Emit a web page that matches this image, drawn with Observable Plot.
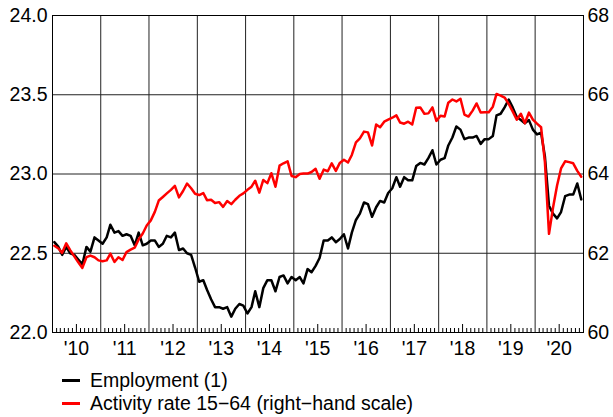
<!DOCTYPE html>
<html>
<head>
<meta charset="utf-8">
<script src="https://cdn.jsdelivr.net/npm/d3@7"></script>
<script src="https://cdn.jsdelivr.net/npm/@observablehq/plot@0.6"></script>
<style>
  body { margin: 0; background: #fff; font-family: "Liberation Sans", Arial, sans-serif; }
  #legend { padding-top: 7px; font-size: 19.5px; line-height: 23px; color: #000; }
  .row { display: flex; align-items: center; }
  .sw { display: inline-block; width: 18px; height: 2.5px; margin-left: 62px; margin-right: 10px; }
</style>
</head>
<body>
<div id="chart"></div>
<div id="legend"></div>
<script>
// Monthly data, Jan 2010 – Dec 2020
const startYear = 2010;
const employment = [
  22.57, 22.54, 22.49, 22.54, 22.50, 22.49, 22.46, 22.43, 22.54, 22.51,
  22.60, 22.58, 22.56, 22.60, 22.68, 22.63, 22.64, 22.61, 22.62, 22.61,
  22.55, 22.63, 22.55, 22.56, 22.58, 22.58, 22.54, 22.56, 22.61, 22.60,
  22.63, 22.52, 22.53, 22.50, 22.49, 22.41, 22.32, 22.33, 22.27, 22.21,
  22.16, 22.16, 22.15, 22.16, 22.10, 22.15, 22.18, 22.17, 22.12, 22.16,
  22.26, 22.16, 22.28, 22.33, 22.33, 22.26, 22.35, 22.36, 22.31, 22.35,
  22.33, 22.35, 22.31, 22.40, 22.38, 22.42, 22.47, 22.58, 22.58, 22.60,
  22.57, 22.59, 22.62, 22.53, 22.63, 22.71, 22.75, 22.82, 22.81, 22.73,
  22.79, 22.83, 22.82, 22.88, 22.91, 22.98, 22.92, 22.98, 22.96, 22.96,
  23.05, 23.07, 23.06, 23.10, 23.15, 23.06, 23.09, 23.10, 23.18, 23.23,
  23.30, 23.28, 23.22, 23.23, 23.23, 23.24, 23.19, 23.22, 23.22, 23.24,
  23.37, 23.38, 23.42, 23.47, 23.42, 23.36, 23.34, 23.32, 23.34, 23.28,
  23.25, 23.26, 23.11, 22.80, 22.75, 22.72, 22.76, 22.86, 22.87, 22.87, 22.94, 22.84
];
const activity = [
  62.19, 62.12, 62.01, 62.25, 62.08, 61.92, 61.77, 61.63, 61.90, 61.94,
  61.90, 61.82, 61.80, 61.82, 61.99, 61.78, 61.90, 61.83, 62.03, 62.09,
  62.14, 62.35, 62.50, 62.70, 62.83, 63.05, 63.33, 63.42, 63.51, 63.60,
  63.70, 63.41, 63.57, 63.76, 63.64, 63.50, 63.47, 63.52, 63.34, 63.35,
  63.27, 63.29, 63.17, 63.32, 63.24, 63.35, 63.45, 63.51, 63.60, 63.68,
  63.83, 63.53, 63.85, 63.77, 64.02, 63.68, 64.21, 64.27, 64.32, 63.95,
  63.92, 64.00, 64.01, 64.01, 64.05, 64.13, 63.88, 64.11, 64.07, 64.27,
  64.08, 64.28, 64.36, 64.29, 64.48, 64.80, 64.90, 65.07, 65.05, 64.72,
  65.25, 65.18, 65.32, 65.37, 65.42, 65.48, 65.30, 65.27, 65.32, 65.25,
  65.67, 65.68, 65.52, 65.53, 65.68, 65.34, 65.47, 65.45, 65.80, 65.88,
  65.83, 65.90, 65.50, 65.45, 65.60, 65.78, 65.55, 65.56, 65.56, 65.70,
  66.02, 65.98, 65.93, 65.77, 65.58, 65.37, 65.52, 65.28, 65.55, 65.37,
  65.27, 65.18, 64.30, 62.49, 63.14, 63.71, 64.14, 64.32, 64.30, 64.27, 64.08, 63.93
];
const yearLabels = ["'10","'11","'12","'13","'14","'15","'16","'17","'18","'19","'20"];
const leftTicks = [22.0, 22.5, 23.0, 23.5, 24.0];
const rightTicks = [60, 62, 64, 66, 68];
const gridLeft = [22.5, 23.0, 23.5];
const seriesNames = ["Employment (1)", "Activity rate 15\u221264 (right\u2212hand scale)"];
const seriesColors = ["#000000", "#ff0000"];

// right scale 60–68 maps onto left scale 22–24
const toLeft = v => 22 + (v - 60) / 4;
const toRight = v => 60 + (v - 22) * 4;

const monthDate = i => new Date(Date.UTC(startYear, i, 15));
const empData = employment.map((v, i) => ({date: monthDate(i), v}));
const actData = activity.map((v, i) => ({date: monthDate(i), v}));

const nYears = yearLabels.length;
const yearStarts = d3.range(1, nYears).map(k => new Date(Date.UTC(startYear + k, 0, 1)));
const midYears = d3.range(nYears).map(k => new Date(Date.UTC(startYear + k, 6, 1)));
const monthTicks = d3.range(nYears * 12).filter(i => i % 12 !== 0 && i % 12 !== 6)
  .map(i => new Date(Date.UTC(startYear, i, 1)));

const W = 613, H = 362, mT = 15, mB = 30;
const innerH = H - mT - mB;

const chart = Plot.plot({
  width: W,
  height: H,
  marginLeft: 52,
  marginRight: 30,
  marginTop: mT,
  marginBottom: mB,
  style: {fontFamily: "'Liberation Sans', Arial, sans-serif", fontSize: "19.5px", color: "#000", background: "#fff"},
  x: {type: "utc", domain: [new Date(Date.UTC(startYear, 0, 1)), new Date(Date.UTC(startYear + nYears, 0, 1))]},
  y: {domain: [22, 24]},
  marks: [
    Plot.ruleX(yearStarts, {stroke: "#222", strokeWidth: 1}),
    Plot.ruleY(gridLeft, {stroke: "#222", strokeWidth: 1}),
    Plot.ruleX(monthTicks, {insetTop: innerH - 4, stroke: "#000", strokeWidth: 1}),
    Plot.ruleX(midYears, {insetTop: innerH - 8, stroke: "#000", strokeWidth: 1}),
    Plot.axisX({ticks: midYears, tickSize: 0, tickPadding: 9, tickFormat: (d, i) => yearLabels[d.getUTCFullYear() - startYear], label: null}),
    Plot.axisY({anchor: "left", ticks: leftTicks, tickSize: 0, tickPadding: 5, tickFormat: d3.format(".1f"), label: null}),
    Plot.axisY({anchor: "right", ticks: rightTicks.map(toLeft), tickSize: 0, tickPadding: 4, tickFormat: d => String(Math.round(toRight(d))), label: null}),
    Plot.line(empData, {x: "date", y: "v", stroke: seriesColors[0], strokeWidth: 2.5}),
    Plot.line(actData, {x: "date", y: d => toLeft(d.v), stroke: seriesColors[1], strokeWidth: 2.5}),
    Plot.frame({stroke: "#000", strokeWidth: 1})
  ]
});
document.getElementById("chart").appendChild(chart);

const legend = document.getElementById("legend");
seriesNames.forEach((name, i) => {
  const row = document.createElement("div");
  row.className = "row";
  const sw = document.createElement("span");
  sw.className = "sw";
  sw.style.background = seriesColors[i];
  const t = document.createElement("span");
  t.textContent = name;
  row.appendChild(sw);
  row.appendChild(t);
  legend.appendChild(row);
});
</script>
</body>
</html>
